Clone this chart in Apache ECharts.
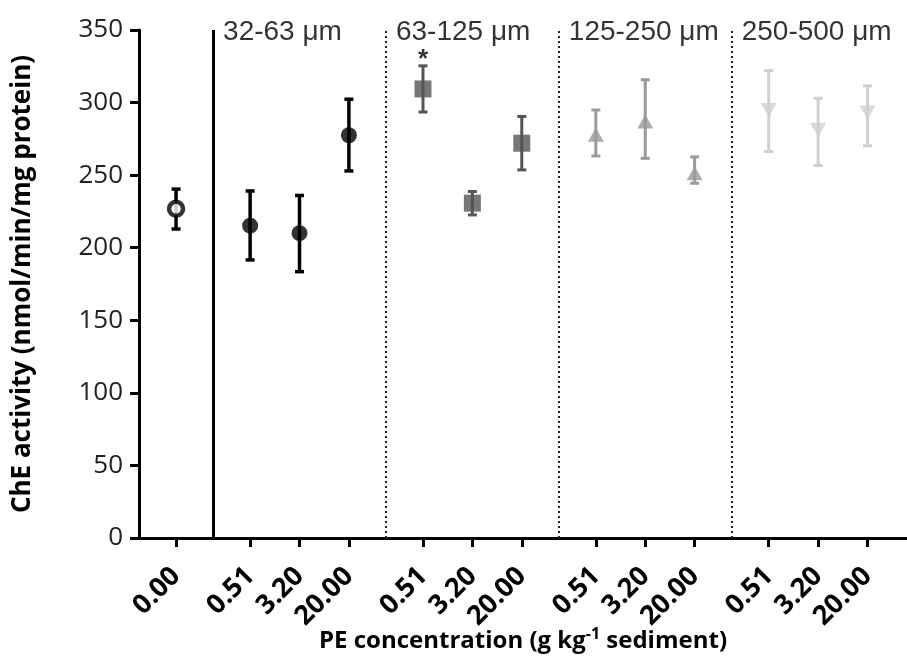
<!DOCTYPE html>
<html>
<head>
<meta charset="utf-8">
<script src="https://cdn.jsdelivr.net/npm/echarts@6/dist/echarts.min.js"></script>
<style>
html,body{margin:0;padding:0;background:#fff;}
#chart{width:907px;height:659px;}
</style>
</head>
<body>
<div id="chart"></div>
<script>
// ---- data ----
const controlLabel = ['0.00'];
const controlMean = [226.8];
const controlLow = [212.9];
const controlHigh = [240.4];

const groupNames = ['32-63 \u03bcm', '63-125 \u03bcm', '125-250 \u03bcm', '250-500 \u03bcm'];
const concLabels = ['0.51', '3.20', '20.00'];

const mean32 = [215.2, 210.0, 277.5];
const low32  = [191.6, 183.5, 252.9];
const high32 = [239.1, 236.0, 302.3];

const mean63 = [309.4, 230.7, 272.0];
const low63  = [293.5, 222.6, 253.6];
const high63 = [325.3, 238.7, 290.4];

const mean125 = [277.8, 286.9, 251.3];
const low125  = [263.2, 261.6, 244.4];
const high125 = [294.9, 315.7, 262.6];

const mean250 = [294.9, 281.2, 293.1];
const low250  = [266.3, 256.6, 270.2];
const high250 = [322.0, 303.0, 311.5];

const significant = [[1, 0]]; // group index, concentration index marked with *
const yTicks = [0, 50, 100, 150, 200, 250, 300, 350];

// ---- layout helpers ----
function slot(g, i) { return 3 + 7 * g + 2 * i; }
const tickPos = [0];
const tickText = {0: controlLabel[0]};
for (let g = 0; g < 4; g++) for (let i = 0; i < 3; i++) { tickPos.push(slot(g, i)); tickText[slot(g, i)] = concLabels[i]; }
const dividers = [1.5, 8.5, 15.5, 22.5];

const groupsData = [
  {mean: mean32, low: low32, high: high32, color: '#000000', symbol: 'circle', size: 16, rot: 0, lw: 3.5},
  {mean: mean63, low: low63, high: high63, color: '#555555', symbol: 'rect', size: 17, rot: 0, lw: 3},
  {mean: mean125, low: low125, high: high125, color: '#9a9a9a', symbol: 'triangle', size: 16, rot: 0, lw: 3},
  {mean: mean250, low: low250, high: high250, color: '#d0d0d0', symbol: 'triangle', size: 16, rot: 180, lw: 3}
];

function errRender(color, lw) {
  return function (params, api) {
    const x = api.value(0);
    const lo = api.coord([x, api.value(1)]);
    const hi = api.coord([x, api.value(2)]);
    const cw = 4.5;
    const st = {stroke: color, lineWidth: lw};
    return {type: 'group', children: [
      {type: 'line', shape: {x1: lo[0], y1: lo[1], x2: hi[0], y2: hi[1]}, style: st},
      {type: 'line', shape: {x1: lo[0] - cw, y1: lo[1], x2: lo[0] + cw, y2: lo[1]}, style: st},
      {type: 'line', shape: {x1: hi[0] - cw, y1: hi[1], x2: hi[0] + cw, y2: hi[1]}, style: st}
    ]};
  };
}

const series = [];
// control
series.push({type: 'custom', renderItem: errRender('#000', 3.5), encode: {x: 0, y: [1, 2]},
  data: controlMean.map((m, k) => [0, controlLow[k], controlHigh[k]]), z: 3});
series.push({type: 'scatter', symbol: 'circle', symbolSize: 14,
  itemStyle: {color: '#fff', borderColor: '#000', borderWidth: 4.5},
  data: controlMean.map(m => [0, m]), z: 5});

groupsData.forEach((gd, g) => {
  series.push({type: 'custom', renderItem: errRender(gd.color, gd.lw), encode: {x: 0, y: [1, 2]},
    data: gd.mean.map((m, i) => [slot(g, i), gd.low[i], gd.high[i]]), z: 3});
  series.push({type: 'scatter', symbol: gd.symbol, symbolSize: gd.symbol === 'triangle' ? [16, 14] : gd.size,
    symbolRotate: gd.rot, itemStyle: {color: gd.color},
    data: gd.mean.map((m, i) => [slot(g, i), m]), z: 5});
});

// significance asterisk
const allHigh = [high32, high63, high125, high250];
series.push({type: 'scatter', symbolSize: 0, silent: true, clip: false,
  data: significant.map(([g, i]) => [slot(g, i), allHigh[g][i]]),
  label: {show: true, position: 'top', distance: 0, offset: [0, 7], formatter: '*', fontSize: 26, fontWeight: 'bold',
    color: '#000', fontFamily: 'Liberation Sans'}, z: 6});

// group labels and dividers
series.push({type: 'scatter', symbolSize: 0, silent: true, clip: false,
  data: dividers.map(d => [d, 350]),
  label: {show: true, position: 'right', distance: 0, offset: [10, 2],
    formatter: p => groupNames[p.dataIndex], fontSize: 28, color: '#000', fontFamily: 'Liberation Sans'},
  markLine: {silent: true, symbol: 'none', label: {show: false},
    data: dividers.map((d, k) => [
      {coord: [d, 0], lineStyle: k === 0 ? {type: 'solid', width: 3, color: '#000'} : {type: [2, 3], width: 2, color: '#222'}},
      {coord: [d, 350]}
    ])}, z: 2});

const chart = echarts.init(document.getElementById('chart'), null, {renderer: 'canvas'});
chart.setOption({
  animation: false,
  backgroundColor: '#ffffff',
  grid: {left: 139, right: 0, top: 30, bottom: 121, containLabel: false, outerBoundsMode: 'none'},
  xAxis: {
    type: 'value', min: -1.5, max: 29.6,
    splitLine: {show: false},
    axisLine: {show: true, onZero: false, lineStyle: {color: '#000', width: 3}},
    axisTick: {show: true, customValues: tickPos, length: 9, lineStyle: {color: '#000', width: 3}},
    axisLabel: {show: true, customValues: tickPos, rotate: 45, margin: 34, fontSize: 27, fontWeight: 'bold',
      fontFamily: 'Open Sans', color: '#000', formatter: v => tickText[v] !== undefined ? tickText[v] : ''},
    name: 'PE concentration (g kg{sup|-1} sediment)',
    nameLocation: 'middle', nameGap: 88, nameMoveOverlap: false,
    nameTextStyle: {fontSize: 24, fontWeight: 'bold', fontFamily: 'Open Sans', color: '#000',
      rich: {sup: {fontSize: 16, fontWeight: 'bold', fontFamily: 'Open Sans', verticalAlign: 'top', padding: [0, 0, 14, 0]}}}
  },
  yAxis: {
    type: 'value', min: 0, max: 350, interval: 50,
    splitLine: {show: false},
    axisLine: {show: true, onZero: false, lineStyle: {color: '#000', width: 3}},
    axisTick: {show: true, length: 9, lineStyle: {color: '#000', width: 3}},
    axisLabel: {fontSize: 26, fontFamily: 'Open Sans', color: '#222', margin: 16,
      formatter: v => yTicks.includes(v) ? String(v) : ''},
    name: 'ChE activity (nmol/min/mg protein)',
    nameLocation: 'middle', nameGap: 103, nameRotate: 90, nameMoveOverlap: false,
    nameTextStyle: {fontSize: 26, fontWeight: 'bold', fontFamily: 'Open Sans', color: '#000'}
  },
  series: series
});
</script>
</body>
</html>
